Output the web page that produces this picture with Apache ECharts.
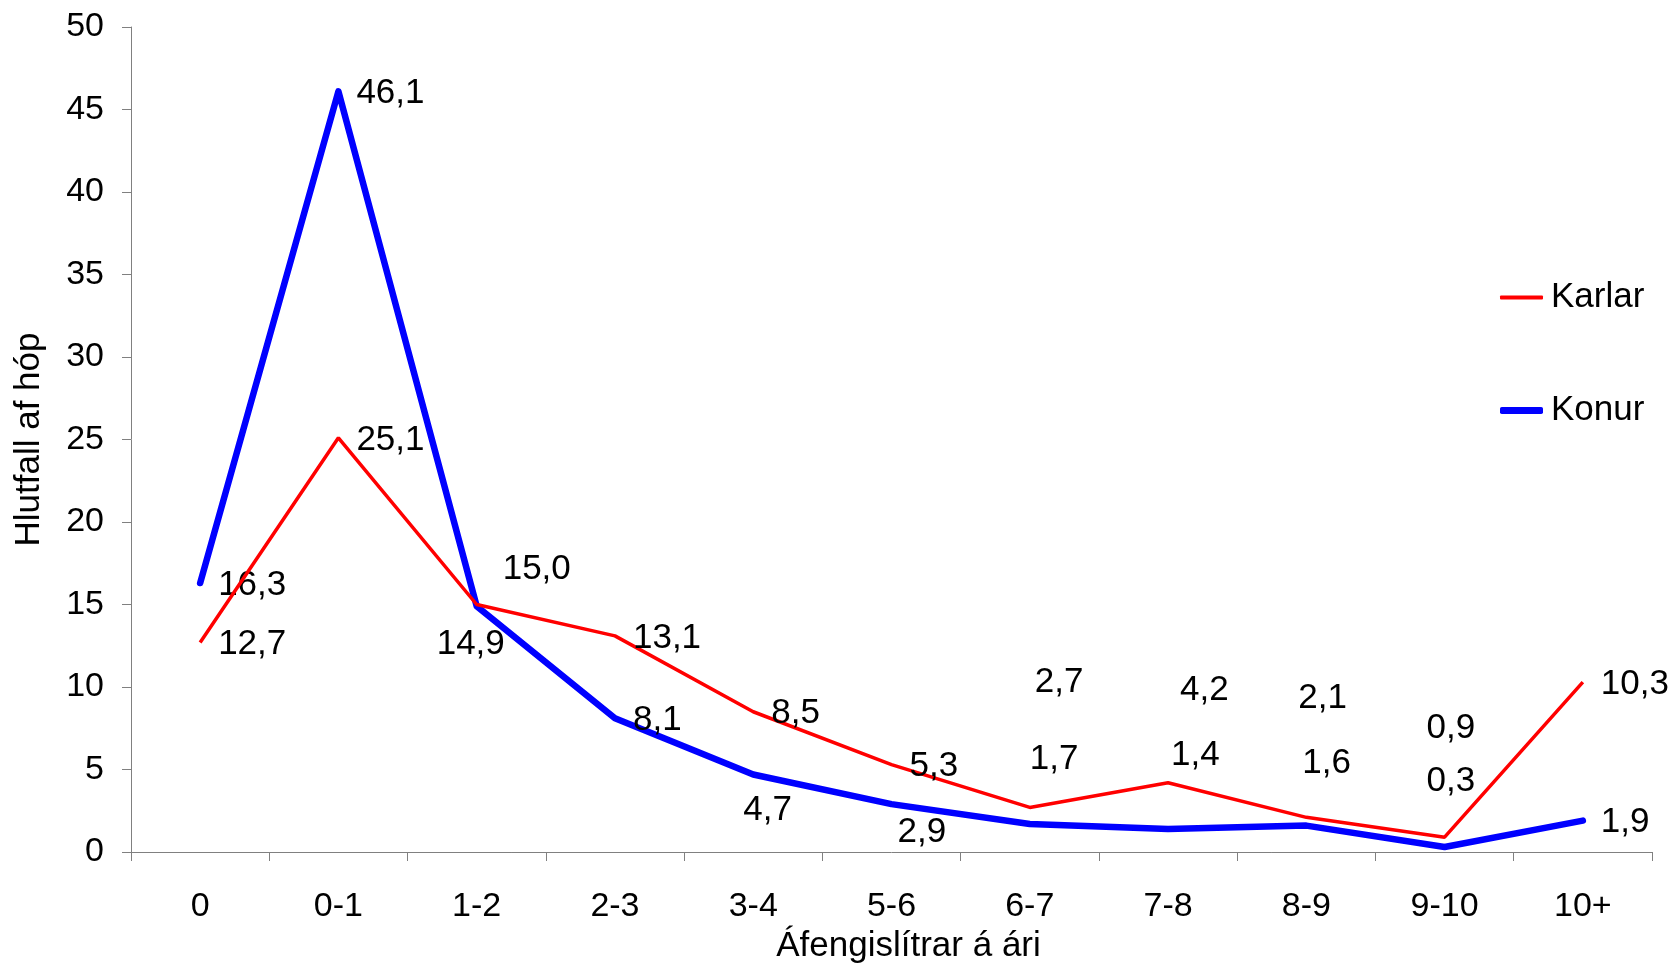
<!DOCTYPE html>
<html>
<head>
<meta charset="utf-8">
<script src="https://cdn.jsdelivr.net/npm/echarts@6/dist/echarts.min.js"></script>
<style>
html,body{margin:0;padding:0;background:#fff;}
#chart{width:1677px;height:964px;}
</style>
</head>
<body>
<div id="chart"></div>
<script>
var categories = ['0','0-1','1-2','2-3','3-4','5-6','6-7','7-8','8-9','9-10','10+'];
var karlar = [12.7, 25.1, 15.0, 13.1, 8.5, 5.3, 2.7, 4.2, 2.1, 0.9, 10.3];
var konur = [16.3, 46.1, 14.9, 8.1, 4.7, 2.9, 1.7, 1.4, 1.6, 0.3, 1.9];
var yTicks = [0, 5, 10, 15, 20, 25, 30, 35, 40, 45, 50];

// label placement offsets (style only)
var karlarLabelOffsets = [[0,0],[0,0],[8,-37],[0,0],[0,0],[0,0],[-13,-127],[-6,-94],[-26,-121],[-36,-111],[0,0]];
var konurLabelOffsets = [[0,0],[0,0],[-58,36],[0,0],[-28,34],[-12,26],[-18,-67],[-15,-76],[-22,-64],[-36,-68],[0,0]];

var FONT = '"Liberation Sans", Arial, sans-serif';
function fmt(v){ return v.toFixed(1).replace('.', ','); }
function buildData(vals, offs){
  return vals.map(function(v,i){
    return {value: v, label: {offset: [offs[i][0], offs[i][1] + 2]}};
  });
}
function labelBase(){
  return {
    show: true, position: 'right', distance: 18,
    color: '#000', fontFamily: FONT, fontSize: 35,
    formatter: function(p){ return fmt(p.value); }
  };
}

var chart = echarts.init(document.getElementById('chart'), null, {renderer:'canvas'});
chart.setOption({
  animation: false,
  backgroundColor: '#fff',
  grid: {left: 131, right: 25, top: 27, bottom: 112, containLabel: false, outerBoundsMode: 'none'},
  legend: [
    {data: [{name: 'Karlar', icon: 'roundRect'}], orient: 'vertical', left: 1495, top: 275, itemWidth: 43, itemHeight: 4, itemGap: 0,
     itemStyle: {color: '#ff0000', borderWidth: 0},
     textStyle: {fontFamily: FONT, fontSize: 35, color: '#000', padding: [0,0,0,3]}},
    {data: [{name: 'Konur', icon: 'roundRect'}], orient: 'vertical', left: 1495, top: 388, itemWidth: 43, itemHeight: 7, itemGap: 0,
     itemStyle: {color: '#0000ff', borderWidth: 0},
     textStyle: {fontFamily: FONT, fontSize: 35, color: '#000', padding: [0,0,0,3]}}
  ],
  xAxis: {
    type: 'category', data: categories, boundaryGap: true,
    name: 'Áfengislítrar á ári', nameLocation: 'middle', nameGap: 75,
    nameTextStyle: {fontFamily: FONT, fontSize: 35, color: '#000', padding: [0,0,0,34]},
    axisLine: {show: true, lineStyle: {color: '#808080', width: 1}},
    axisTick: {show: true, interval: 0, length: 9, lineStyle: {color: '#808080'}},
    axisLabel: {interval: 0, margin: 38, fontFamily: FONT, fontSize: 34, color: '#000'},
    splitLine: {show: false}
  },
  yAxis: {
    type: 'value', min: yTicks[0], max: yTicks[yTicks.length-1], interval: yTicks[1]-yTicks[0],
    name: 'Hlutfall af hóp', nameLocation: 'middle', nameGap: 84,
    nameTextStyle: {fontFamily: FONT, fontSize: 35, color: '#000'},
    axisLine: {show: true, lineStyle: {color: '#808080', width: 1}},
    axisTick: {show: true, length: 9, lineStyle: {color: '#808080'}},
    axisLabel: {margin: 27, fontFamily: FONT, fontSize: 34, color: '#000'},
    splitLine: {show: false}
  },
  series: [
    {name: 'Karlar', type: 'line', data: buildData(karlar, karlarLabelOffsets),
     symbol: 'circle', symbolSize: 0, showSymbol: true, color: '#ff0000',
     itemStyle: {color: '#ff0000'},
     lineStyle: {color: '#ff0000', width: 3.5}, label: labelBase(), z: 3},
    {name: 'Konur', type: 'line', data: buildData(konur, konurLabelOffsets),
     symbol: 'circle', symbolSize: 0, showSymbol: true, color: '#0000ff',
     itemStyle: {color: '#0000ff'},
     lineStyle: {color: '#0000ff', width: 6.5, cap: 'round', join: 'round'}, label: labelBase(), z: 2}
  ]
});
</script>
</body>
</html>
